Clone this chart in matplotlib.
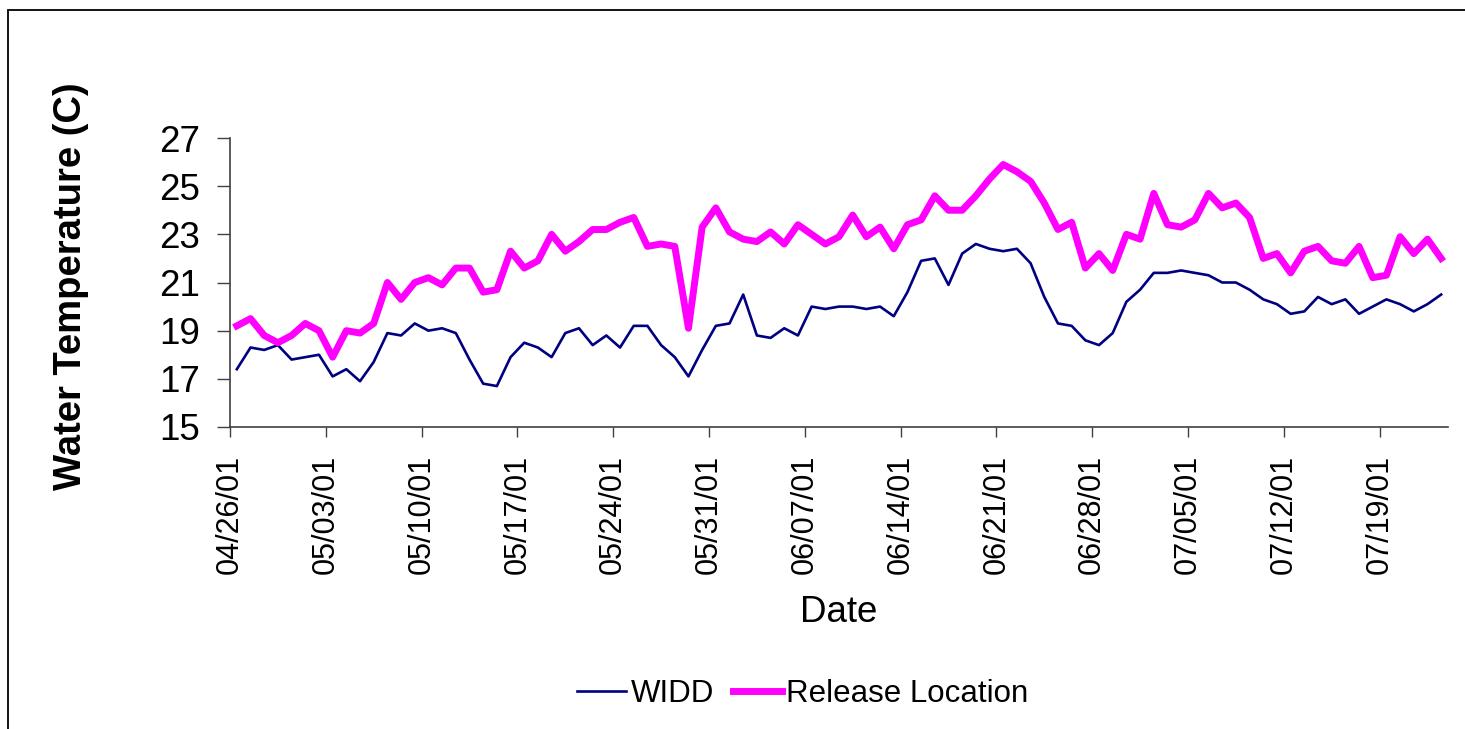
import pandas as pd
import matplotlib.pyplot as plt
from matplotlib.patches import Rectangle

# ------------------ Datos ------------------
fechas = pd.date_range('2001-04-26', periods=89, freq='D')

widd = [
    17.4, 18.3, 18.2, 18.4, 17.8, 17.9, 18.0, 17.1, 17.4, 16.9,
    17.7, 18.9, 18.8, 19.3, 19.0, 19.1, 18.9, 17.8, 16.8, 16.7,
    17.9, 18.5, 18.3, 17.9, 18.9, 19.1, 18.4, 18.8, 18.3, 19.2,
    19.2, 18.4, 17.9, 17.1, 18.2, 19.2, 19.3, 20.5, 18.8, 18.7,
    19.1, 18.8, 20.0, 19.9, 20.0, 20.0, 19.9, 20.0, 19.6, 20.6,
    21.9, 22.0, 20.9, 22.2, 22.6, 22.4, 22.3, 22.4, 21.8, 20.4,
    19.3, 19.2, 18.6, 18.4, 18.9, 20.2, 20.7, 21.4, 21.4, 21.5,
    21.4, 21.3, 21.0, 21.0, 20.7, 20.3, 20.1, 19.7, 19.8, 20.4,
    20.1, 20.3, 19.7, 20.0, 20.3, 20.1, 19.8, 20.1, 20.5,
]

release = [
    19.2, 19.5, 18.8, 18.5, 18.8, 19.3, 19.0, 17.9, 19.0, 18.9,
    19.3, 21.0, 20.3, 21.0, 21.2, 20.9, 21.6, 21.6, 20.6, 20.7,
    22.3, 21.6, 21.9, 23.0, 22.3, 22.7, 23.2, 23.2, 23.5, 23.7,
    22.5, 22.6, 22.5, 19.1, 23.3, 24.1, 23.1, 22.8, 22.7, 23.1,
    22.6, 23.4, 23.0, 22.6, 22.9, 23.8, 22.9, 23.3, 22.4, 23.4,
    23.6, 24.6, 24.0, 24.0, 24.6, 25.3, 25.9, 25.6, 25.2, 24.3,
    23.2, 23.5, 21.6, 22.2, 21.5, 23.0, 22.8, 24.7, 23.4, 23.3,
    23.6, 24.7, 24.1, 24.3, 23.7, 22.0, 22.2, 21.4, 22.3, 22.5,
    21.9, 21.8, 22.5, 21.2, 21.3, 22.9, 22.2, 22.8, 22.0,
]

etiquetas = [f.strftime('%m/%d/%y') for f in fechas[::7]]
yticks = [15, 17, 19, 21, 23, 25, 27]

# ------------------ Gráfico ------------------
plt.rcParams['font.family'] = ['Liberation Sans', 'DejaVu Sans']

fig = plt.figure(figsize=(14.65, 7.29), dpi=100)
ax = fig.add_axes([230 / 1465, 1 - 427 / 729, 1218 / 1465, 289 / 729])

x = list(range(len(fechas)))
ax.plot(x, widd, color='#000080', lw=1.9, label='WIDD', solid_joinstyle='round')
ax.plot(x, release, color='#FF00FF', lw=5, label='Release Location', solid_joinstyle='round')

ax.set_xlim(-0.5, len(fechas) - 0.5)
ax.set_ylim(15, 27)

ax.set_xticks([i - 0.5 for i in range(0, len(fechas), 7)])
ax.set_xticklabels(etiquetas, rotation=90, fontsize=22)
ax.set_yticks(yticks)
ax.set_yticklabels([str(v) for v in yticks], fontsize=26.5)

ax.tick_params(axis='y', length=9.5, width=1, color='#404040', pad=12)
ax.tick_params(axis='x', length=7, width=1, color='#404040', pad=13)

for lado in ['top', 'right']:
    ax.spines[lado].set_visible(False)
for lado in ['left', 'bottom']:
    ax.spines[lado].set_color('#404040')
    ax.spines[lado].set_linewidth(1.2)

# Títulos de los ejes
fig.text(71 / 1465, 1 - 286 / 729, 'Water Temperature (C)', rotation=90,
         ha='center', va='center', fontsize=27.5, fontweight='bold')
fig.text(839 / 1465, 1 - 613 / 729, 'Date', ha='center', va='center', fontsize=26.5)

# Leyenda
fig.legend(loc='center', bbox_to_anchor=(803 / 1465, 1 - 694 / 729), ncol=2,
           frameon=False, fontsize=22.5, handlelength=1.56, handletextpad=0.15,
           columnspacing=0.6)

# Marco exterior (recortado a la derecha y abajo)
fig.add_artist(Rectangle((8 / 1465, -0.2), 1.2, 1.2 - 10 / 729, transform=fig.transFigure,
                         fill=False, lw=1.3, ec='black'))

plt.savefig('out.png', dpi=100)
plt.close()
